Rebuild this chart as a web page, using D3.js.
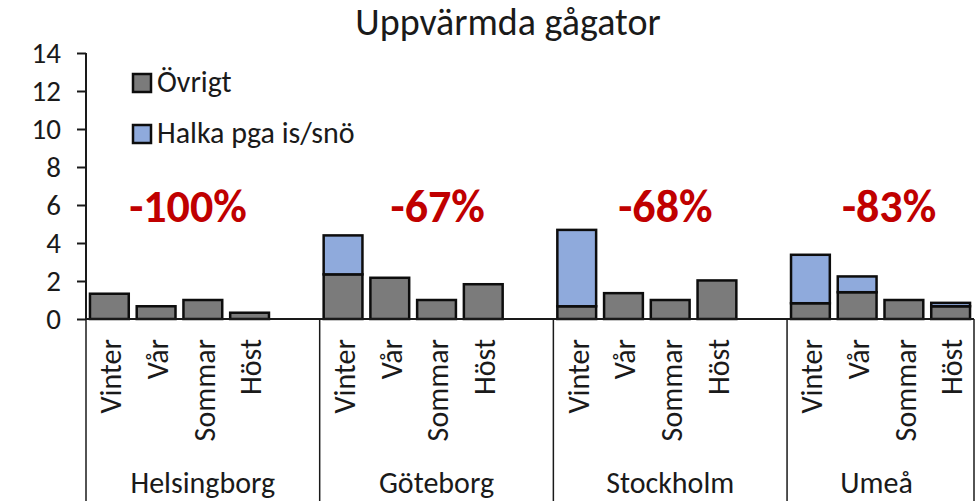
<!DOCTYPE html>
<html>
<head>
<meta charset="utf-8">
<script src="https://cdn.jsdelivr.net/npm/d3@7"></script>
<style>
  html, body { margin: 0; padding: 0; background: #fff; }
  svg { display: block; font-family: 'Carlito', 'Open Sans', sans-serif; }
</style>
</head>
<body>
<div id="chart"></div>
<script>
const WIDTH = 978
const HEIGHT = 501
const MARGIN = { top: 53, bottom: 182, left: 86, right: 4 }

// data
const cities = ['Helsingborg', 'Göteborg', 'Stockholm', 'Umeå']
const seasons = ['Vinter', 'Vår', 'Sommar', 'Höst']
const seriesNames = ['Övrigt', 'Halka pga is/snö']
const ovrigt = [1.33, 0.67, 1.0, 0.33, 2.35, 2.17, 1.0, 1.83, 0.67, 1.36, 1.0, 2.03, 0.83, 1.41, 1.0, 0.67]
const halka = [0, 0, 0, 0, 2.05, 0, 0, 0, 4.02, 0, 0, 0, 2.55, 0.83, 0, 0.18]
const changes = ['-100%', '-67%', '-68%', '-83%']
const yTicks = [0, 2, 4, 6, 8, 10, 12, 14]

const COLORS = ['#7b7b7b', '#8faadc']
const TEXT = '#1a1a1a'

const innerWd = WIDTH - MARGIN.left - MARGIN.right
const innerHt = HEIGHT - MARGIN.top - MARGIN.bottom

// one row per city/season
const rows = []
cities.forEach((city, i) => {
  seasons.forEach((season, j) => {
    rows.push({
      key: city + '|' + season,
      city,
      season,
      [seriesNames[0]]: ovrigt[i * 4 + j],
      [seriesNames[1]]: halka[i * 4 + j],
    })
  })
})

// slots: 4 seasons per city plus an empty slot between cities
const slots = []
cities.forEach((city, i) => {
  seasons.forEach(s => slots.push(city + '|' + s))
  if (i < cities.length - 1) slots.push('gap' + i)
})

const x = d3.scaleBand()
  .domain(slots)
  .range([0, innerWd])
  .paddingInner(0.17)
  .paddingOuter(0.085)
const step = x.step()
const y = d3.scaleLinear()
  .domain([0, 14])
  .range([innerHt, 0])

const stacked = d3.stack().keys(seriesNames)(rows)

const svg = d3.select('#chart').append('svg')
  .attr('width', WIDTH)
  .attr('height', HEIGHT)

// title
svg.append('text')
  .attr('x', 508)
  .attr('y', 35)
  .attr('text-anchor', 'middle')
  .attr('font-size', 38)
  .attr('fill', TEXT)
  .text('Uppvärmda gågator')

const g = svg.append('g')
  .attr('transform', 'translate(' + MARGIN.left + ',' + MARGIN.top + ')')

// bars
g.append('g')
  .selectAll('g')
  .data(stacked)
  .enter()
  .append('g')
  .attr('fill', (d, i) => COLORS[i])
  .selectAll('rect')
  .data(d => d.filter(p => p[1] - p[0] > 0))
  .enter()
  .append('rect')
  .attr('x', d => x(d.data.key))
  .attr('y', d => y(d[1]))
  .attr('width', x.bandwidth())
  .attr('height', d => y(d[0]) - y(d[1]))
  .attr('stroke', '#0d0d0d')
  .attr('stroke-width', 2.5)

// y axis
const yAxis = g.append('g')
  .call(d3.axisLeft(y).tickValues(yTicks).tickSize(9).tickPadding(16))
yAxis.select('.domain')
  .attr('stroke', '#1a1a1a')
  .attr('stroke-width', 2)
  .attr('d', 'M0,0V' + innerHt)
yAxis.selectAll('.tick line')
  .attr('stroke', '#1a1a1a')
  .attr('stroke-width', 2)
yAxis.selectAll('.tick text')
  .attr('font-size', 29)
  .attr('font-family', "'Carlito', 'Open Sans', sans-serif")
  .attr('fill', TEXT)

// x axis line
g.append('line')
  .attr('x1', 0)
  .attr('x2', innerWd)
  .attr('y1', innerHt)
  .attr('y2', innerHt)
  .attr('stroke', '#1a1a1a')
  .attr('stroke-width', 2)

// group dividers
const groupStarts = cities.map((c, i) => x(c + '|' + seasons[0]) - (step - x.bandwidth()) / 2)
const dividers = groupStarts.concat([innerWd])
g.append('g')
  .selectAll('line')
  .data(dividers)
  .enter()
  .append('line')
  .attr('x1', d => d)
  .attr('x2', d => d)
  .attr('y1', innerHt)
  .attr('y2', HEIGHT - MARGIN.top)
  .attr('stroke', '#1a1a1a')
  .attr('stroke-width', 1.5)

// season labels (rotated)
g.append('g')
  .selectAll('text')
  .data(rows)
  .enter()
  .append('text')
  .attr('transform', d => 'translate(' + (x(d.key) + x.bandwidth() / 2 + 1) + ',' + (innerHt + 20) + ') rotate(-90)')
  .attr('text-anchor', 'end')
  .attr('dy', '0.36em')
  .attr('font-size', 30)
  .attr('fill', TEXT)
  .text(d => d.season)

// city labels
g.append('g')
  .selectAll('text')
  .data(cities)
  .enter()
  .append('text')
  .attr('x', (d, i) => (dividers[i] + Math.min(dividers[i] + 5 * step, innerWd)) / 2 - (i === 3 ? 4 : 0))
  .attr('y', 493 - MARGIN.top)
  .attr('text-anchor', 'middle')
  .attr('font-size', 30)
  .attr('fill', TEXT)
  .text(d => d)

// change annotations
const changeDx = [102, 118, 112, 102]
g.append('g')
  .selectAll('text')
  .data(changes)
  .enter()
  .append('text')
  .attr('x', (d, i) => groupStarts[i] + changeDx[i])
  .attr('y', 222 - MARGIN.top)
  .attr('text-anchor', 'middle')
  .attr('font-size', 46)
  .attr('font-weight', 'bold')
  .attr('fill', '#c00000')
  .text(d => d)

// legend
const legend = svg.append('g')
  .selectAll('g')
  .data(seriesNames)
  .enter()
  .append('g')
  .attr('transform', (d, i) => 'translate(133,' + (74 + i * 51) + ')')
legend.append('rect')
  .attr('width', 18)
  .attr('height', 18)
  .attr('fill', (d, i) => COLORS[i])
  .attr('stroke', '#0d0d0d')
  .attr('stroke-width', 2.5)
legend.append('text')
  .attr('x', 24)
  .attr('y', 18)
  .attr('font-size', 30)
  .attr('fill', TEXT)
  .text(d => d)
</script>
</body>
</html>
